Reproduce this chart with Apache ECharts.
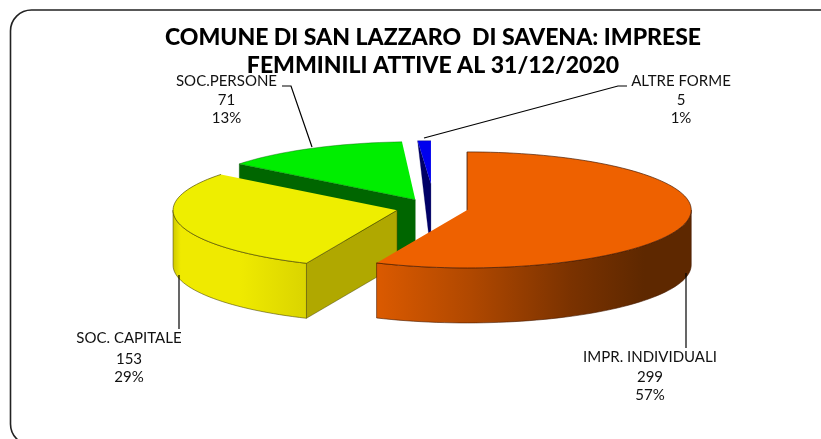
<!DOCTYPE html>
<html>
<head>
<meta charset="utf-8">
<style>html,body{margin:0;padding:0;background:#fff}#c{width:821px;height:439px}</style>
<script src="https://cdn.jsdelivr.net/npm/echarts@6/dist/echarts.min.js"></script>
</head>
<body>
<div id="c"></div>
<script>
var titleText = 'COMUNE DI SAN LAZZARO  DI SAVENA: IMPRESE\nFEMMINILI ATTIVE AL 31/12/2020';
var categories = ['IMPR. INDIVIDUALI', 'SOC. CAPITALE', 'SOC.PERSONE', 'ALTRE FORME'];
var values = [299, 153, 71, 5];

var topColors = ['#EE6100', '#EEEE00', '#00EE00', '#0000EE'];
var cutColors = ['#A84500', '#B0A800', '#006600', '#000066'];
var sideStops = [
  [[0, '#DB5A00'], [0.3, '#B04800'], [0.62, '#7A3200'], [0.85, '#5E2800'], [1, '#5E2800']],
  [[0, '#CFC800'], [0.06, '#EFEA00'], [0.5, '#EFEA00'], [1, '#DAD400']],
  [[0, '#006600'], [1, '#006600']],
  [[0, '#000066'], [1, '#000066']]
];
var edgeColors = ['rgba(70,25,0,.85)', 'rgba(70,65,0,.8)', 'rgba(0,90,0,.5)', 'rgba(0,0,90,.4)'];
var drawOrder = [3, 2, 1, 0];

var pie = { cx: 432, cy: 208, rx: 224, ry: 58, depth: 55, explode: 36 };
var labelPlaces = [
  { x: 650, y: [357, 377, 395], line: [[686, 348], [686, 273]] },
  { x: 129, y: [338, 359, 377], line: [[179, 329], [179, 275]] },
  { x: 226.5, y: [81, 100, 118], line: [[282, 86], [291, 86], [312, 147]] },
  { x: 681, y: [81, 100, 118], line: [[627, 86], [618, 86], [424, 138]] }
];

var total = values.reduce(function (a, b) { return a + b; }, 0);
function rad(d) { return d * Math.PI / 180; }

function renderSlice(params, api) {
  var i = params.dataIndex;
  var before = 0;
  for (var k = 0; k < i; k++) before += values[k];
  var v = api.value(0);
  var start = before / total * 360;
  var end = (before + v) / total * 360;
  var mid = (start + end) / 2;
  var ox = pie.cx + pie.explode * Math.sin(rad(mid));
  var oy = pie.cy - pie.explode * Math.cos(rad(mid)) * pie.ry / pie.rx;
  function rim(d, dz) {
    return [ox + pie.rx * Math.sin(rad(d)), oy - pie.ry * Math.cos(rad(d)) + (dz || 0)];
  }
  function arc(a, b, dz) {
    var pts = [], n = Math.max(2, Math.ceil(Math.abs(b - a) / 2));
    for (var j = 0; j <= n; j++) pts.push(rim(a + (b - a) * j / n, dz));
    return pts;
  }
  var thin = end - start < 10;
  var apexTop = [ox, oy - (thin ? 15 : 0)];
  var apexBottom = [ox, oy + pie.depth];
  var z = drawOrder[i] * 10;
  var kids = [];

  var cut = thin
    ? [rim(start), apexTop, apexBottom]
    : [rim(start), apexTop, apexBottom, rim(start, pie.depth)];
  kids.push({ type: 'polygon', z2: z + 1, shape: { points: cut },
    style: { fill: cutColors[i], stroke: edgeColors[i], lineWidth: 0.6 } });

  var fa = Math.max(start, 90), fb = Math.min(end, 270);
  if (fb > fa) {
    var wall = arc(fa, fb, 0).concat(arc(fb, fa, pie.depth));
    kids.push({ type: 'polygon', z2: z + 2, shape: { points: wall },
      style: {
        fill: new echarts.graphic.LinearGradient(0, 0, 1, 0, sideStops[i].map(function (s) {
          return { offset: s[0], color: s[1] };
        })),
        stroke: edgeColors[i], lineWidth: 0.7
      } });
  }

  var top = [apexTop].concat(arc(start, end, 0));
  kids.push({ type: 'polygon', z2: z + 3, shape: { points: top },
    style: { fill: topColors[i] } });
  kids.push({ type: 'polyline', z2: z + 4, shape: { points: arc(start, end, 0) },
    style: { fill: 'none', stroke: edgeColors[i], lineWidth: 0.8 } });
  if (!thin) {
    kids.push({ type: 'polyline', z2: z + 4, shape: { points: [rim(start), apexTop] },
      style: { fill: 'none', stroke: edgeColors[i], lineWidth: 0.7 } });
  }

  var place = labelPlaces[i];
  kids.push({ type: 'polyline', z2: 100, shape: { points: place.line },
    style: { fill: 'none', stroke: '#000', lineWidth: 1.2 } });
  var lines = [categories[i], String(v), Math.round(v / total * 100) + '%'];
  lines.forEach(function (t, n) {
    kids.push({ type: 'text', z2: 101, x: place.x, y: place.y[n],
      style: { text: t, align: 'center', verticalAlign: 'middle',
        font: '15px Lato', fill: '#111' } });
  });
  return { type: 'group', children: kids };
}

var chart = echarts.init(document.getElementById('c'), null, { renderer: 'canvas' });
chart.setOption({
  backgroundColor: '#fff',
  animation: false,
  title: {
    text: titleText, left: 428, top: 19, textAlign: 'center',
    textStyle: { fontFamily: 'Lato', fontWeight: 900, fontSize: 23, lineHeight: 28, color: '#000' }
  },
  graphic: [{
    type: 'rect', silent: true, z: -1,
    shape: { x: 10.5, y: 10, width: 830, height: 435, r: 21 },
    style: { fill: 'none', stroke: '#222', lineWidth: 1.6 }
  }],
  series: [{
    type: 'custom',
    coordinateSystem: 'none',
    renderItem: renderSlice,
    silent: true,
    data: categories.map(function (c, i) { return { name: c, value: [values[i]] }; })
  }]
});
</script>
</body>
</html>
